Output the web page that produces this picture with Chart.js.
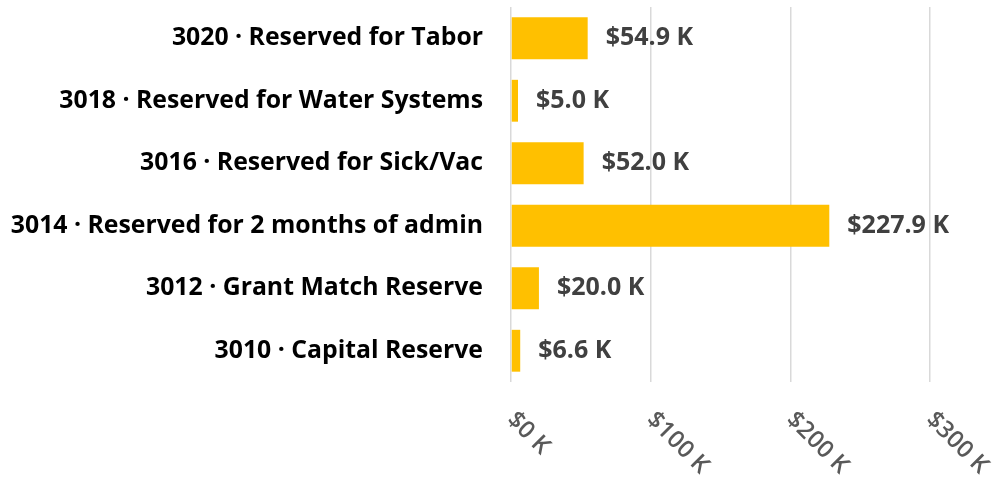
<!DOCTYPE html>
<html>
<head>
<meta charset="utf-8">
<script src="https://cdn.jsdelivr.net/npm/chart.js@4/dist/chart.umd.min.js"></script>
<style>
  html, body { margin: 0; padding: 0; background: #fff; }
  #wrap { width: 994px; height: 477px; }
</style>
</head>
<body>
<div id="wrap"><canvas id="barChart"></canvas></div>
<script>
// reserve accounts, values in thousands of dollars
var accounts = [
    "3020 · Reserved for Tabor",
    "3018 · Reserved for Water Systems",
    "3016 · Reserved for Sick/Vac",
    "3014 · Reserved for 2 months of admin",
    "3012 · Grant Match Reserve",
    "3010 · Capital Reserve"
];
var amounts = [54.9, 5.0, 52.0, 227.9, 20.0, 6.6];
var tickValues = [0, 100, 200, 300];

var FONT = "'Open Sans', Lato, sans-serif";

// value labels after each bar
var barLabels = {
    id: 'barLabels',
    afterDatasetsDraw: function (chart) {
        var ctx = chart.ctx;
        var meta = chart.getDatasetMeta(0);
        ctx.save();
        ctx.font = "bold 25px " + FONT;
        ctx.fillStyle = "#404040";
        ctx.textAlign = "left";
        ctx.textBaseline = "middle";
        meta.data.forEach(function (bar, i) {
            ctx.fillText("$" + amounts[i].toFixed(1) + " K", bar.x + 18, bar.y);
        });
        ctx.restore();
    }
};

// x tick labels turned 45 degrees clockwise, starting at the grid line
var slantTicks = {
    id: 'slantTicks',
    afterDraw: function (chart) {
        var ctx = chart.ctx;
        var xs = chart.scales.x;
        ctx.save();
        ctx.font = "600 24px " + FONT;
        ctx.fillStyle = "#595959";
        ctx.textAlign = "left";
        ctx.textBaseline = "middle";
        xs.ticks.forEach(function (t) {
            var px = xs.getPixelForValue(t.value);
            ctx.save();
            ctx.translate(px, xs.top + 34);
            ctx.rotate(Math.PI / 4);
            ctx.fillText("$" + t.value + " K", 0, 0);
            ctx.restore();
        });
        ctx.restore();
    }
};

window.onload = function () {
    var ctx = document.getElementById("barChart").getContext('2d');
    var myBarChart = new Chart(ctx, {
        type: 'bar',
        data: {
            labels: accounts,
            datasets: [{
                data: amounts,
                backgroundColor: "#FFC000",
                barPercentage: 0.67,
                categoryPercentage: 1.0
            }]
        },
        options: {
            indexAxis: 'y',
            responsive: true,
            maintainAspectRatio: false,
            animation: false,
            layout: { padding: { top: 7, right: 64, left: 0, bottom: 0 } },
            plugins: {
                legend: { display: false },
                tooltip: { enabled: false }
            },
            scales: {
                x: {
                    min: 0,
                    max: 300,
                    afterBuildTicks: function (scale) {
                        scale.ticks = tickValues.map(function (v) { return { value: v }; });
                    },
                    afterFit: function (scale) {
                        scale.height = 95;
                        scale.paddingLeft = 0;
                        scale.paddingRight = 0;
                    },
                    border: { display: false },
                    grid: { color: "#D9D9D9", lineWidth: 1.5, drawTicks: false },
                    ticks: { display: false }
                },
                y: {
                    afterFit: function (scale) {
                        scale.width = 511;
                        scale.paddingTop = 0;
                        scale.paddingBottom = 0;
                    },
                    border: { display: false },
                    grid: { display: false, drawTicks: false },
                    ticks: {
                        padding: 28,
                        color: "#000000",
                        font: { family: FONT, size: 24.8, weight: 'bold' }
                    }
                }
            }
        },
        plugins: [barLabels, slantTicks]
    });
};
</script>
</body>
</html>
